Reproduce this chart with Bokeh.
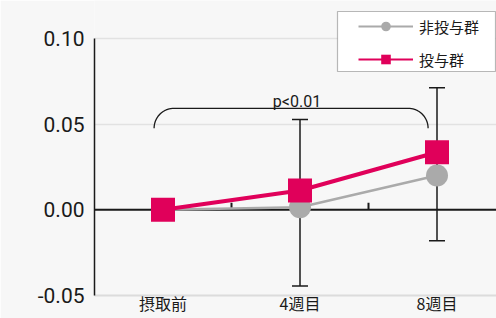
import numpy as np
from bokeh.plotting import figure
from bokeh.models import (ColumnDataSource, Whisker, TeeHead, Span, Label, Legend,
                          LegendItem, FixedTicker, BoxAnnotation, NumeralTickFormatter)
from bokeh.embed import file_html
from bokeh.resources import INLINE

# ---- data ----
categories = ["摂取前", "4週目", "8週目"]
series_names = ["非投与群", "投与群"]
non_admin = [0.0, 0.0015, 0.020]
admin = [0.0, 0.0113, 0.0336]
err_cat = [1, 2]
err_upper = [0.0527, 0.0712]
err_lower = [-0.0445, -0.0181]
y_ticks = [-0.05, 0.0, 0.05, 0.10]
y_label = "ΔR2"
sig_text = "p<0.01"
bracket_x = [-0.065, 1.935]
bracket_y_end = 0.0476
sig_text_pos = [0.978, 0.0632]

# ---- layout (pixels) ----
W, H = 496, 318
BL, BR, BT, BB = 94, 0, 0, 23
fw, fh = W - BL - BR, H - BT - BB
ppx = 137.0
x0 = -0.5
x1 = x0 + fw / ppx
y0 = min(y_ticks)
y_top_tick = max(y_ticks)
top_px = 38                      # pixel row of the top tick
ppy = (fh - top_px) / (y_top_tick - y0)
y1 = y_top_tick + top_px / ppy

BG = "#f7f7f7"
GRAY = "#aaaaaa"
PINK = "#e0005a"
DARK = "#1a1a1a"
CJK = "Noto Sans CJK JP"
LAT = "Roboto"

p = figure(width=W, height=H, x_range=(x0, x1), y_range=(y0, y1),
           output_backend="svg", toolbar_location=None,
           min_border_left=BL, min_border_right=BR, min_border_top=BT, min_border_bottom=BB)
p.background_fill_color = BG
p.border_fill_color = BG
p.outline_line_color = None

xs = list(range(len(categories)))

# x axis
p.xaxis.ticker = FixedTicker(ticks=xs)
p.xaxis.major_label_overrides = {i: c for i, c in enumerate(categories)}
p.xaxis.axis_line_color = "#dcdcdc"
p.xaxis.axis_line_width = 2
p.xaxis.major_tick_line_color = None
p.xaxis.major_tick_out = 0
p.xaxis.major_tick_in = 0
p.xaxis.minor_tick_line_color = None
p.xaxis.minor_tick_out = 0
p.xaxis.major_label_standoff = -5
p.xaxis.major_label_text_font = CJK
p.xaxis.major_label_text_font_size = "16px"
p.xaxis.major_label_text_color = DARK

p.yaxis.ticker = FixedTicker(ticks=y_ticks)
p.yaxis.bounds = (y0, y_top_tick)
p.yaxis.formatter = NumeralTickFormatter(format="0.00")
p.yaxis.axis_line_color = DARK
p.yaxis.axis_line_width = 1.5
p.yaxis.major_tick_line_color = None
p.yaxis.major_tick_out = 0
p.yaxis.major_tick_in = 0
p.yaxis.minor_tick_line_color = None
p.yaxis.major_label_standoff = 10
p.yaxis.major_label_text_font = LAT
p.yaxis.major_label_text_font_size = "21px"
p.yaxis.major_label_text_color = DARK

p.xgrid.grid_line_color = None
p.ygrid.ticker = FixedTicker(ticks=y_ticks)
p.ygrid.grid_line_color = "#e2e2e2"
p.ygrid.grid_line_width = 1.5

# zero line
zero = Span(location=0, dimension="width", line_color=DARK, line_width=2, level="underlay")
p.add_layout(zero)
# small ticks on zero line between categories
mids = [i + 0.5 for i in xs]
p.segment(x0=mids, y0=[0] * len(mids), x1=mids, y1=[7 / ppy] * len(mids),
          line_color=DARK, line_width=2)

# error bars
esrc = ColumnDataSource(dict(x=err_cat, upper=err_upper, lower=err_lower))
wh = Whisker(source=esrc, base="x", upper="upper", lower="lower", dimension="height",
             line_color=DARK, line_width=1.5,
             upper_head=TeeHead(size=16, line_color=DARK, line_width=1.5),
             lower_head=TeeHead(size=16, line_color=DARK, line_width=1.5))
p.add_layout(wh)

# series
src = ColumnDataSource(dict(x=xs, non=non_admin, adm=admin))
p.line("x", "non", source=src, line_color=GRAY, line_width=2.5)
p.scatter("x", "non", source=src, marker="circle", size=22, fill_color=GRAY, line_color=None)
p.line("x", "adm", source=src, line_color=PINK, line_width=4)
p.scatter("x", "adm", source=src, marker="square", size=24, fill_color=PINK, line_color=None)

# significance bracket
r = 20.0
rx, ry = r / ppx, r / ppy
t1 = np.linspace(np.pi, np.pi / 2, 20)
t2 = np.linspace(np.pi / 2, 0, 20)
bx = np.concatenate([bracket_x[0] + rx + rx * np.cos(t1), bracket_x[1] - rx + rx * np.cos(t2)])
by = np.concatenate([bracket_y_end + ry * np.sin(t1), bracket_y_end + ry * np.sin(t2)])
p.line(bx, by, line_color=DARK, line_width=1.3)
p.add_layout(Label(x=sig_text_pos[0], y=sig_text_pos[1], text=sig_text, text_align="center",
                   text_baseline="alphabetic", text_font=LAT, text_font_size="16px",
                   text_color=DARK))

# y label (screen units relative to the frame's bottom-left corner)
p.add_layout(Label(x=22.5 - BL, y=fh - 175, x_units="screen", y_units="screen",
                   text=y_label, angle=np.pi / 2, text_align="center", text_baseline="middle",
                   text_font=LAT, text_font_size="20px", text_color=DARK))

# legend box
lb_left, lb_right, lb_top, lb_bot = 337, 495, 11, 71
box = BoxAnnotation(left=lb_left - BL, right=lb_right - BL,
                    top=fh - lb_top, bottom=fh - lb_bot,
                    left_units="screen", right_units="screen", top_units="screen",
                    bottom_units="screen", fill_color="white", fill_alpha=1.0,
                    line_color=DARK, line_width=1.2)
p.add_layout(box)

nan_src = ColumnDataSource(dict(x=[np.nan], y=[np.nan]))
lg1 = p.line("x", "y", source=nan_src, line_color=GRAY, line_width=2)
lg1m = p.scatter("x", "y", source=nan_src, marker="circle", fill_color=GRAY, line_color=None)
lg2 = p.line("x", "y", source=nan_src, line_color=PINK, line_width=2)
lg2m = p.scatter("x", "y", source=nan_src, marker="square", fill_color=PINK, line_color=None)

legend = Legend(items=[LegendItem(label=series_names[0], renderers=[lg1, lg1m]),
                       LegendItem(label=series_names[1], renderers=[lg2, lg2m])],
                location=(358 - BL, fh - lb_bot),
                padding=0, spacing=9, glyph_width=55, glyph_height=24, label_height=24,
                label_standoff=6, border_line_color=None, background_fill_alpha=0,
                label_text_font=CJK, label_text_font_size="15px", label_text_color=DARK)
p.add_layout(legend, "center")

open("out.html", "w").write(file_html(p, INLINE))
